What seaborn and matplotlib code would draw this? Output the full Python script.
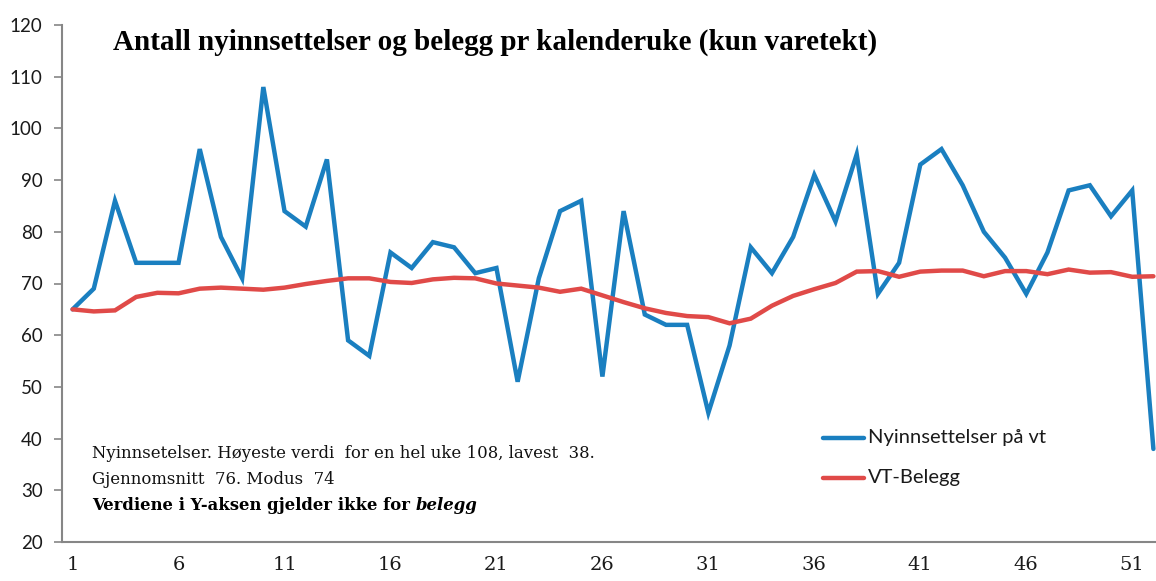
import matplotlib
matplotlib.use("Agg")
import matplotlib.pyplot as plt
import seaborn as sns
import pandas as pd
import numpy as np

weeks = list(range(1, 53))
nyinnsettelser = [65, 69, 86, 74, 74, 74, 96, 79, 71, 108, 84, 81, 94, 59, 56, 76,
                  73, 78, 77, 72, 73, 51, 71, 84, 86, 52, 84, 64, 62, 62, 45, 58,
                  77, 72, 79, 91, 82, 95, 68, 74, 93, 96, 89, 80, 75, 68, 76, 88,
                  89, 83, 88, 38]
belegg = [65.0, 64.6, 64.8, 67.4, 68.2, 68.1, 69.0, 69.2, 69.0, 68.8, 69.2, 69.9,
          70.5, 71.0, 71.0, 70.3, 70.1, 70.8, 71.1, 71.0, 70.0, 69.6, 69.2, 68.4,
          69.0, 67.7, 66.4, 65.2, 64.3, 63.7, 63.5, 62.3, 63.2, 65.7, 67.6, 68.9,
          70.1, 72.3, 72.4, 71.3, 72.3, 72.5, 72.5, 71.4, 72.4, 72.4, 71.8, 72.7,
          72.1, 72.2, 71.3, 71.4]
series_names = ["Nyinnsettelser på vt", "VT-Belegg"]
colors = ["#1a7fc0", "#e04a48"]
title = "Antall nyinnsettelser og belegg pr kalenderuke (kun varetekt)"
note_lines = ["Nyinnsetelser. Høyeste verdi  for en hel uke 108, lavest  38.",
              "Gjennomsnitt  76. Modus  74"]
note_bold = "Verdiene i Y-aksen gjelder ikke for "
note_italic = "belegg"
x_tick_labels = [1, 6, 11, 16, 21, 26, 31, 36, 41, 46, 51]
y_ticks = list(range(20, 121, 10))

df = pd.DataFrame({
    "uke": weeks * 2,
    "verdi": nyinnsettelser + belegg,
    "serie": [series_names[0]] * len(weeks) + [series_names[1]] * len(weeks),
})

sns.set_style("white")
fig = plt.figure(figsize=(11.56, 5.81), dpi=100)
ax = fig.add_axes([62 / 1156, 39 / 581, (1164 - 62) / 1156, (542 - 25) / 581])

sns.lineplot(data=df, x="uke", y="verdi", hue="serie", palette=colors,
             linewidth=3.2, ax=ax, legend=False, sort=False)
for ln in ax.lines:
    ln.set_solid_capstyle("round")
    ln.set_solid_joinstyle("miter")

ax.set_yticks(y_ticks)
ax.set_yticklabels([str(v) for v in y_ticks], fontsize=13.5, family="Lato", color="#1a1a1a")
ax.set_xticks(x_tick_labels)
ax.set_xticklabels([str(v) for v in x_tick_labels], fontsize=14, family="DejaVu Serif", color="#1a1a1a")
ax.set_xticks([v - 0.5 for v in x_tick_labels], minor=True)
ax.set_xlim(0.5, 52.5)
ax.set_ylim(20, 120)
ax.tick_params(axis="x", which="major", length=0, pad=10)
ax.tick_params(axis="x", which="minor", length=6, width=1.2, color="#868686", direction="out")
ax.tick_params(axis="y", which="major", length=6, width=1.2, color="#868686", direction="out", left=True, pad=8)
ax.set_xlabel("")
ax.set_ylabel("")
for s in ["top", "right"]:
    ax.spines[s].set_visible(False)
for s in ["left", "bottom"]:
    ax.spines[s].set_color("#868686")
    ax.spines[s].set_linewidth(1.5)

fig.text(113 / 1156, 1 - 42 / 581, title, fontsize=21, fontweight="bold",
         family="Liberation Serif", va="center", ha="left", color="black")

note_fs = 11.9
fig.text(92 / 1156, 1 - 453 / 581, note_lines[0], fontsize=note_fs, family="DejaVu Serif",
         va="center", ha="left", color="#111111")
fig.text(92 / 1156, 1 - 480 / 581, note_lines[1], fontsize=note_fs, family="DejaVu Serif",
         va="center", ha="left", color="#111111")
tb = fig.text(92 / 1156, 1 - 505 / 581, note_bold, fontsize=note_fs,
              family="DejaVu Serif", fontweight="bold", va="center", ha="left", color="black")
fig.canvas.draw()
bb = tb.get_window_extent()
fig.text(bb.x1 / fig.bbox.width, 1 - 505 / 581, note_italic, fontsize=note_fs, family="DejaVu Serif",
         fontweight="bold", style="italic", va="center", ha="left", color="black")

# legend
for i, (name, c) in enumerate(zip(series_names, colors)):
    yy = 1 - (438 + i * 40) / 581
    fig.add_artist(plt.Line2D([823 / 1156, 864 / 1156], [yy, yy], color=c, lw=3.2,
                              solid_capstyle="round", transform=fig.transFigure))
    fig.text(868 / 1156, yy, name, fontsize=14.5, family="Lato", va="center", ha="left",
             color="#1a1a1a")

fig.savefig("out.png", dpi=100)
